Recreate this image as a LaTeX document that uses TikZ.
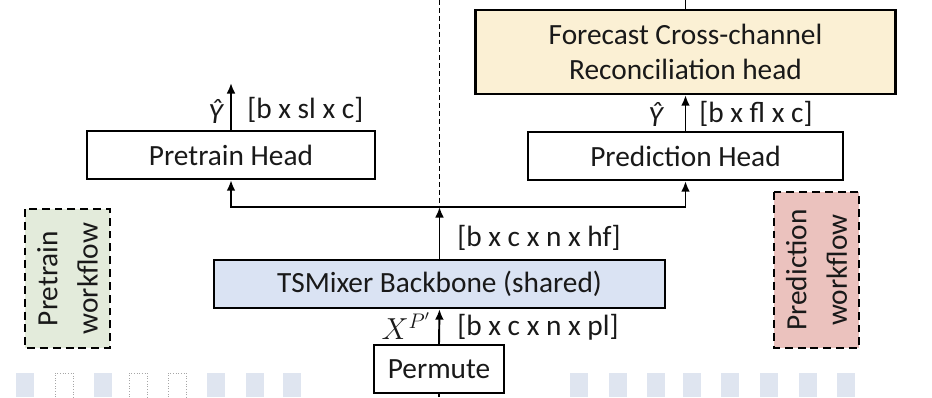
\documentclass[tikz,border=0pt]{standalone}
\usepackage{fontspec}
\setmainfont{Carlito}
\usetikzlibrary{arrows.meta}
\definecolor{headfill}{HTML}{FBF0D4}
\definecolor{backfill}{HTML}{DAE3F3}
\definecolor{pretrainfill}{HTML}{E3EBDB}
\definecolor{predfill}{HTML}{EBC2BE}
\definecolor{fadefill}{HTML}{DFE5F0}
\begin{document}
\begin{tikzpicture}[x=0.02cm, y=-0.02cm, >={Latex[length=6pt,width=5pt]},
    txt/.style={font=\fontsize{16.7}{20}\selectfont, inner sep=0pt, text=black!90},
    block/.style={txt, draw, line width=1.3pt, minimum height=0.96cm},
    flow/.style={txt, draw, dash pattern=on 4.5pt off 2.8pt, line width=1.5pt,
        rotate=90, align=center, font=\fontsize{16.7}{23}\selectfont},
    link/.style={line width=1.1pt}]
    \useasboundingbox (0,0) rectangle (932,397);
    % faded background
    \foreach \xs in {16,94,207,246,283,570,609,647,683,721,760,799,837}
        \fill[fadefill] (\xs,373) rectangle ++(18,24);
    \foreach \xs in {55,129,168}
        \draw[gray!70, densely dotted, line width=0.5pt] (\xs,397) -- ++(0,-24) -- ++(18,0) -- ++(0,24);
    % blocks
    \node[block, minimum width=2.6cm] (permute) at (439,369) {Permute};
    \node[block, fill=backfill, minimum width=9.02cm] (backbone) at (439.5,284) {TSMixer Backbone (shared)};
    \node[block, minimum width=5.76cm] (pretrain) at (231,155) {Pretrain Head};
    \node[block, minimum width=6.3cm] (predhead) at (685.5,156) {Prediction Head};
    \node[block, fill=headfill, minimum width=8.4cm, minimum height=1.68cm, align=center,
        font=\fontsize{16.7}{19.9}\selectfont] (forecast) at (685.5,52)
        {Forecast Cross-channel\\Reconciliation head};
    % workflows
    \node[flow, fill=pretrainfill, minimum width=2.78cm, minimum height=1.7cm] (pretrainwf) at (67.5,278.5) {Pretrain\\workflow};
    \node[flow, fill=predfill, minimum width=3.12cm, minimum height=1.7cm] (predwf) at (816.5,270) {Prediction\\workflow};
    % connectors
    \coordinate (split) at (439.5,207);
    \coordinate (divtop) at (439.5,0);
    \coordinate (inbot) at (439,397);
    \coordinate (outtop) at (685.5,0);
    \coordinate (yout) at (231,83);
    \draw[line width=0.6pt, dash pattern=on 2.8pt off 1.7pt] (divtop) -- (split);
    \draw[link] (inbot) -- (permute.south);
    \draw[link, ->] (permute.north) -- (backbone.south);
    \draw[link, ->] (backbone.north) -- (split);
    \draw[link, ->] (split) -| (pretrain.south);
    \draw[link, ->] (split) -| (predhead.south);
    \draw[link, ->] (pretrain.north) -- (yout);
    \draw[link, ->] (predhead.north) -- (forecast.south);
    \draw[link] (forecast.north) -- (outtop);
    % labels
    \node[txt, anchor=east] (yhatpre) at (223,111) {\itshape Ŷ};
    \node[txt, anchor=west] (dimpre) at (247,110) {[b x sl x c]};
    \node[txt, anchor=east] (yhatpred) at (663,114) {\itshape Ŷ};
    \node[txt, anchor=west] (dimpred) at (699,114) {[b x fl x c]};
    \node[txt, anchor=west] (dimback) at (457,238) {[b x c x n x hf]};
    \node[txt, anchor=east] (xperm) at (431,326) {$X^{P'}$};
    \node[txt, anchor=west] (dimperm) at (457,327) {[b x c x n x pl]};
\end{tikzpicture}
\end{document}
